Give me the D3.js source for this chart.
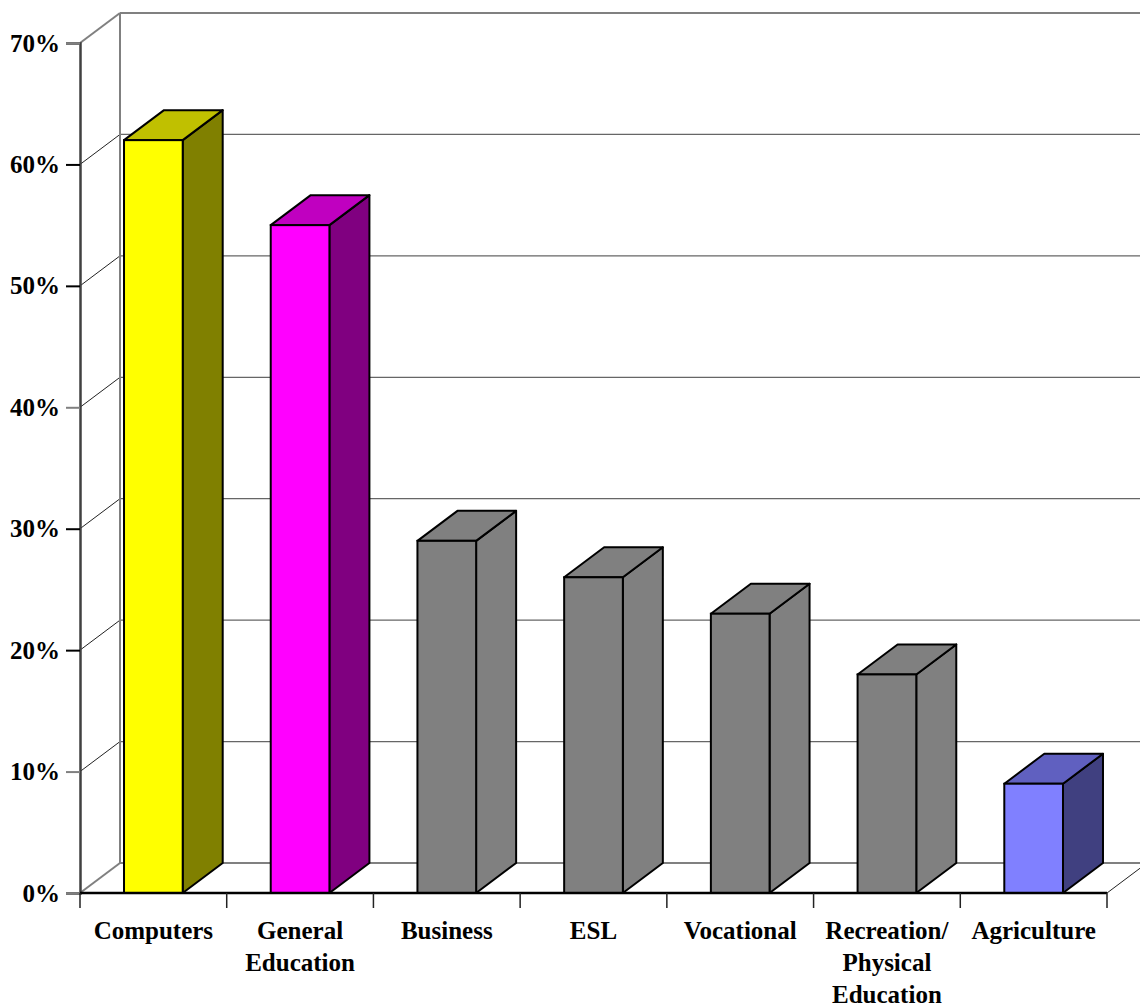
<!DOCTYPE html>
<html>
<head>
<meta charset="utf-8">
<script src="https://cdn.jsdelivr.net/npm/d3@7"></script>
<style>
  body { margin: 0; background: #fff; }
  text { font-family: "Liberation Serif", "Times New Roman", serif; font-weight: bold; }
</style>
</head>
<body>
<script>
// data
var categories = ["Computers", "General\nEducation", "Business", "ESL", "Vocational", "Recreation/\nPhysical\nEducation", "Agriculture"];
var values = [0.62, 0.55, 0.29, 0.26, 0.23, 0.18, 0.09];
var yTicks = [0, 0.1, 0.2, 0.3, 0.4, 0.5, 0.6, 0.7];
var frontColors = ["#FFFF00", "#FF00FF", "#808080", "#808080", "#808080", "#808080", "#8080FF"];
var topColors   = ["#C0C000", "#C000C0", "#808080", "#808080", "#808080", "#808080", "#6060C0"];
var sideColors  = ["#808000", "#800080", "#808080", "#808080", "#808080", "#808080", "#404080"];

var width = 1140, height = 1007;
var dx = 40, dy = -30; // depth offset

var svg = d3.select("body").append("svg")
    .attr("width", width)
    .attr("height", height);

var x = d3.scaleBand()
    .domain(categories)
    .range([80, 1107])
    .paddingInner(0.6)
    .paddingOuter(0.3);

var y = d3.scaleLinear()
    .domain([0, 0.7])
    .range([893, 43]);

var step = x.step();
var x0 = x.range()[0], x1 = x.range()[1];

// walls
var g = svg.append("g");

// back wall gridlines
g.selectAll(".grid")
  .data(yTicks)
  .enter().append("line")
    .attr("class", "grid")
    .attr("x1", x0 + dx).attr("x2", x1 + dx)
    .attr("y1", function(d){ return y(d) + dy; })
    .attr("y2", function(d){ return y(d) + dy; })
    .attr("stroke", function(d, i){ return (i == 0 || i == yTicks.length - 1) ? "#808080" : "#666"; })
    .attr("stroke-width", function(d, i){ return (i == 0 || i == yTicks.length - 1) ? 2 : 1.3; });

// side wall diagonals
g.selectAll(".diag")
  .data(yTicks)
  .enter().append("line")
    .attr("class", "diag")
    .attr("x1", x0).attr("x2", x0 + dx)
    .attr("y1", function(d){ return y(d); })
    .attr("y2", function(d){ return y(d) + dy; })
    .attr("stroke", function(d, i){ return (i == 0 || i == yTicks.length - 1) ? "#808080" : "#222"; })
    .attr("stroke-width", function(d, i){ return (i == 0 || i == yTicks.length - 1) ? 2 : 1; });

// back wall left edge
g.append("line")
    .attr("x1", x0 + dx).attr("x2", x0 + dx)
    .attr("y1", y(0) + dy).attr("y2", y(0.7) + dy)
    .attr("stroke", "#808080").attr("stroke-width", 2);

// floor right diagonal
g.append("line")
    .attr("x1", x1).attr("x2", x1 + dx)
    .attr("y1", y(0)).attr("y2", y(0) + dy)
    .attr("stroke", "#222").attr("stroke-width", 1);

// bars
var bars = svg.selectAll(".bar")
  .data(values)
  .enter().append("g")
    .attr("class", "bar");

bars.append("path")
    .attr("d", function(d, i){
      var bx = x(categories[i]) + x.bandwidth(), top = y(d), bot = y(0);
      return "M" + bx + "," + bot + "L" + bx + "," + top + "L" + (bx + dx) + "," + (top + dy) +
             "L" + (bx + dx) + "," + (bot + dy) + "Z";
    })
    .attr("fill", function(d, i){ return sideColors[i]; })
    .attr("stroke", "#000").attr("stroke-width", 2).attr("stroke-linejoin", "round");

bars.append("path")
    .attr("d", function(d, i){
      var bx = x(categories[i]), w = x.bandwidth(), top = y(d);
      return "M" + bx + "," + top + "L" + (bx + dx) + "," + (top + dy) + "L" + (bx + w + dx) + "," + (top + dy) +
             "L" + (bx + w) + "," + top + "Z";
    })
    .attr("fill", function(d, i){ return topColors[i]; })
    .attr("stroke", "#000").attr("stroke-width", 2).attr("stroke-linejoin", "round");

bars.append("rect")
    .attr("x", function(d, i){ return x(categories[i]); })
    .attr("y", function(d){ return y(d); })
    .attr("width", x.bandwidth())
    .attr("height", function(d){ return y(0) - y(d); })
    .attr("fill", function(d, i){ return frontColors[i]; })
    .attr("stroke", "#000").attr("stroke-width", 2);

// y axis
var yAxis = svg.append("g")
    .attr("transform", "translate(" + x0 + ",0)")
    .call(d3.axisLeft(y).tickValues(yTicks).tickFormat(d3.format(".0%")).tickSize(14).tickPadding(6));
yAxis.select(".domain").attr("stroke", "#404040").attr("stroke-width", 2.5);
yAxis.selectAll(".tick line").attr("stroke", function(d){ return (d == 0 || d == 0.7 || d == 0.1 || d == 0.4) ? "#808080" : "#000"; }).attr("stroke-width", 2);
yAxis.selectAll(".tick text")
    .attr("font-size", 25)
    .attr("fill", "#000")
    .attr("font-family", "Liberation Serif")
    .attr("font-weight", "bold");

// floor front edge
svg.append("line")
    .attr("x1", x0).attr("x2", x1)
    .attr("y1", y(0)).attr("y2", y(0))
    .attr("stroke", "#000").attr("stroke-width", 2.5);

// x ticks at band boundaries
svg.selectAll(".xtick")
  .data(d3.range(categories.length + 1))
  .enter().append("line")
    .attr("class", "xtick")
    .attr("x1", function(i){ return x0 + i * step; })
    .attr("x2", function(i){ return x0 + i * step; })
    .attr("y1", y(0)).attr("y2", y(0) + 15)
    .attr("stroke", "#222").attr("stroke-width", 1.5);

// category labels
var labels = svg.selectAll(".xlabel")
  .data(categories)
  .enter().append("text")
    .attr("class", "xlabel")
    .attr("text-anchor", "middle")
    .attr("font-size", 25)
    .attr("x", function(d){ return x(d) + x.bandwidth() / 2; })
    .attr("y", 939);

labels.selectAll("tspan")
  .data(function(d){ return d.split("\n"); })
  .enter().append("tspan")
    .attr("x", function(){ var p = d3.select(this.parentNode); return p.attr("x"); })
    .attr("dy", function(d, i){ return i == 0 ? 0 : 32; })
    .text(function(d){ return d; });
</script>
</body>
</html>
